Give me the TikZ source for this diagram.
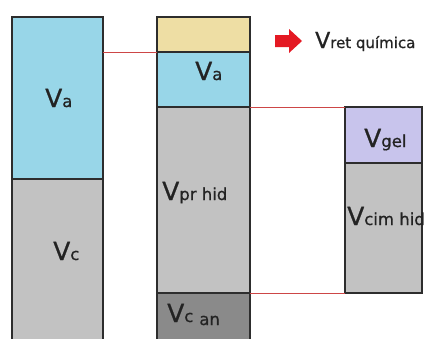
\documentclass[tikz,border=0pt]{standalone}
\usepackage{fontspec}
\setmainfont{DejaVu Sans}
\newfontfamily\labfont[FakeBold=0.8]{DejaVu Sans}
\definecolor{edge}{RGB}{45,45,45}
\definecolor{lblue}{RGB}{152,214,232}
\definecolor{lyellow}{RGB}{238,222,164}
\definecolor{lgray}{RGB}{194,194,194}
\definecolor{dgray}{RGB}{138,138,138}
\definecolor{lav}{RGB}{200,196,236}
\definecolor{redline}{RGB}{205,70,70}
\definecolor{arrred}{RGB}{228,25,35}
\definecolor{txt}{RGB}{35,35,35}
\newcommand\bigV{{\fontsize{25}{25}\selectfont V}}
\newcommand\subt[1]{{\fontsize{16.5}{16.5}\selectfont #1}}
\begin{document}
\begin{tikzpicture}[x=1pt,y=-1pt,
  blk/.style={draw=edge,line width=1.5pt,anchor=north west,inner sep=0pt,outer sep=0pt},
  lab/.style={anchor=base west,inner sep=0pt,text=txt,font=\labfont},
  conn/.style={draw=redline,line width=0.8pt}]
\useasboundingbox (0,0) rectangle (425,338);
\clip (0,0) rectangle (425,338);
% left column
\node[blk,fill=lblue,minimum width=91pt,minimum height=162pt] (la) at (12,17) {};
\node[blk,fill=lgray,minimum width=91pt,minimum height=170pt] (lc) at (12,179) {};
% middle column
\node[blk,fill=lyellow,minimum width=93pt,minimum height=35pt] (my) at (157,17) {};
\node[blk,fill=lblue,minimum width=93pt,minimum height=55pt] (ma) at (157,52) {};
\node[blk,fill=lgray,minimum width=93pt,minimum height=186pt] (mp) at (157,107) {};
\node[blk,fill=dgray,minimum width=93pt,minimum height=56pt] (mc) at (157,293) {};
% right column
\node[blk,fill=lav,minimum width=77pt,minimum height=56pt] (rg) at (345,107) {};
\node[blk,fill=lgray,minimum width=77pt,minimum height=130pt] (rc) at (345,163) {};
% connectors
\draw[conn] (la.east |- my.south) -- (my.south west);
\draw[conn] (ma.south east) -- (rg.north west);
\draw[conn] (mp.south east) -- (rc.south west);
% arrow
\coordinate (arr) at (288,41);
\fill[arrred] (275,35) -- (289,35) -- (289,29) -- (302,41) -- (289,53) -- (289,47) -- (275,47) -- cycle;
% labels
\node[lab] (tla) at (45,107) {\bigV\subt{a}};
\node[lab] (tlc) at (53,260) {\bigV\subt{c}};
\node[lab] (tma) at (195,80) {\bigV\subt{a}};
\node[lab] (tmp) at (162,200) {\bigV\subt{pr hid}};
\node[lab] (tmc) at (167,322) {\bigV\subt{c}\hspace{6pt}\raisebox{-3pt}{\subt{an}}};
\node[lab] (trg) at (364,147) {\bigV\subt{gel}};
\node[lab] (trc) at (347,225) {\bigV\subt{cim hid}};
\node[lab] (tret) at (315,48) {{\fontsize{22}{22}\selectfont V}{\fontsize{15}{15}\selectfont ret química}};
\end{tikzpicture}
\end{document}
